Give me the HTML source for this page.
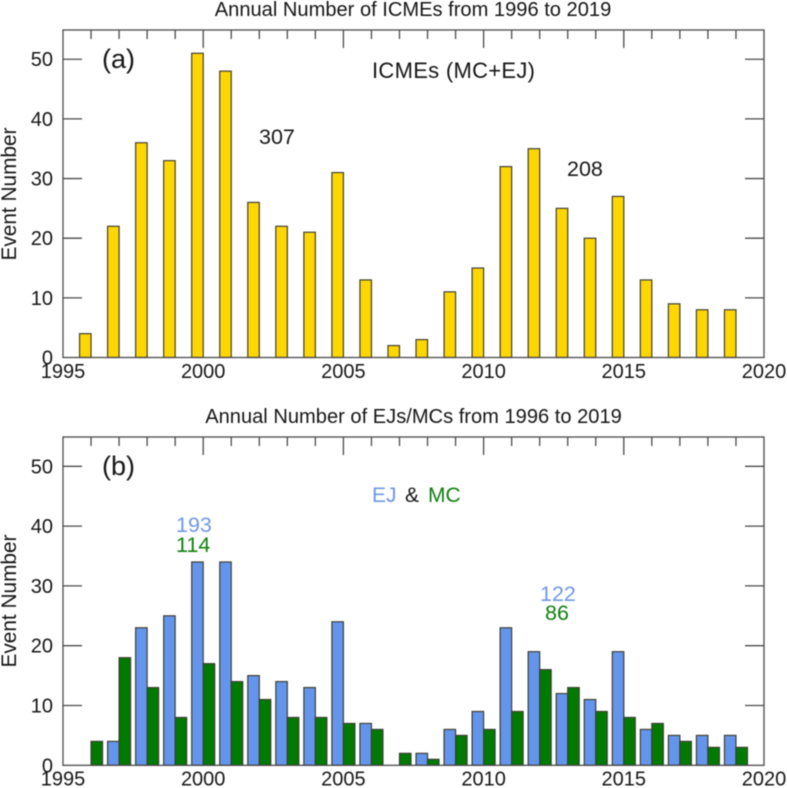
<!DOCTYPE html>
<html lang="en">
<head>
<meta charset="utf-8">
<title>Annual Number of ICMEs from 1996 to 2019</title>
<style>
html,body{margin:0;padding:0;background:#fff;width:787px;height:788px;overflow:hidden}
svg{display:block;filter:blur(0.4px)}
text{font-family:"Liberation Sans",sans-serif;fill:#161616}
</style>
</head>
<body>
<svg id="chart" xmlns="http://www.w3.org/2000/svg" width="787" height="788" viewBox="0 0 787 788"></svg>
<script>
const years = [1996,1997,1998,1999,2000,2001,2002,2003,2004,2005,2006,2007,2008,2009,2010,2011,2012,2013,2014,2015,2016,2017,2018,2019];
const icmeCounts = [4,22,36,33,51,48,26,22,21,31,13,2,3,11,15,32,35,25,20,27,13,9,8,8];
const ejCounts = [0,4,23,25,34,34,15,14,13,24,7,0,2,6,9,23,19,12,11,19,6,5,5,5];
const mcCounts = [4,18,13,8,17,14,11,8,8,7,6,2,1,5,6,9,16,13,9,8,7,4,3,3];
const xTickLabels = [1995,2000,2005,2010,2015,2020];
const yTickLabels = [0,10,20,30,40,50];

const svg = document.getElementById('chart');
const NS = 'http://www.w3.org/2000/svg';
const AXIS = '#4a4a4a';
const left = 63, right = 764;
const xMin = 1995, xMax = 2020, yMax = 54.9;
const barYears = 0.41;
const xScale = v => left + (v - xMin) / (xMax - xMin) * (right - left);

function make(tag, attrs, parent) {
  const el = document.createElementNS(NS, tag);
  for (const k in attrs) el.setAttribute(k, attrs[k]);
  parent.appendChild(el);
  return el;
}
function label(parent, str, x, y, size, name, opts) {
  const el = make('text', Object.assign({x: x, y: y, 'font-size': size}, opts || {}), parent);
  el.textContent = str;
  
  
  return el;
}

function drawAxes(g, top, bottom, yScale, xLabelBase, title, titleBase, titleX, yTitleY) {
  label(g, title, titleX, titleBase, 20.1, 'chart-title', {'text-anchor': 'middle'});
  label(g, 'Event Number', 0, 0, 20.8, 'y-axis-title', {'text-anchor': 'middle', transform: 'translate(16,' + yTitleY + ') rotate(-90)'});

  for (let yr = xMin + 1; yr < xMax; yr++) {
    const major = yr % 5 === 0;
    const tick = make('line', {x1: xScale(yr), x2: xScale(yr), y1: top, y2: top + (major ? 18 : 9), stroke: AXIS, 'stroke-width': 1.3}, g);
    
    
  }
  xTickLabels.forEach(v => {
    label(g, String(v), xScale(v), xLabelBase, 20, 'x-tick-label', {'text-anchor': 'middle'});
  });
  yTickLabels.forEach(v => {
    if (v > 0) {
      const l = make('line', {x1: left, x2: left + 19, y1: yScale(v), y2: yScale(v), stroke: AXIS, 'stroke-width': 1.3}, g);
      
      
      const r = make('line', {x1: right - 19, x2: right, y1: yScale(v), y2: yScale(v), stroke: AXIS, 'stroke-width': 1.3}, g);
      
      
    }
    label(g, String(v), 53, yScale(v) + 7, 20, 'y-tick-label', {'text-anchor': 'end'});
  });
}

function drawFrame(g, top, bottom) {
  const frame = make('rect', {x: left, y: top, width: right - left, height: bottom - top, fill: 'none', stroke: AXIS, 'stroke-width': 1.3}, g);
  
  
}

function drawBars(g, values, yScale, bottom, startOffset, fill, name) {
  values.forEach((v, i) => {
    if (v <= 0) return;
    const x = xScale(years[i] + startOffset);
    const bar = make('rect', {x: x, y: yScale(v), width: xScale(years[i] + startOffset + barYears) - x, height: bottom - yScale(v), fill: fill, stroke: '#3f3f33', 'stroke-width': 1.2}, g);
    
    
  });
}

/* Panel (a) */
const topA = 30, bottomA = 357.5;
const yA = v => bottomA - v / yMax * (bottomA - topA);
const panelA = make('g', {}, svg);


drawBars(panelA, icmeCounts, yA, bottomA, -barYears, '#ffd700', 'icme-bar');
drawAxes(panelA, topA, bottomA, yA, 378, 'Annual Number of ICMEs from 1996 to 2019', 16, 413, 194);
drawFrame(panelA, topA, bottomA);
label(panelA, '(a)', 102, 68, 27, 'panel-a-label');
label(panelA, 'ICMEs (MC+EJ)', 372, 78, 22, 'panel-a-annotation', {textLength: 163, lengthAdjust: 'spacing'});
label(panelA, '307', 259, 144, 21.5, 'total-first-cycle');
label(panelA, '208', 567, 176, 21.5, 'total-second-cycle');

/* Panel (b) */
const topB = 437, bottomB = 765.3;
const yB = v => bottomB - v / yMax * (bottomB - topB);
const panelB = make('g', {}, svg);


drawBars(panelB, ejCounts, yB, bottomB, -barYears, '#6495ed', 'ej-bar');
drawBars(panelB, mcCounts, yB, bottomB, 0, '#007a00', 'mc-bar');
drawAxes(panelB, topB, bottomB, yB, 785.5, 'Annual Number of EJs/MCs from 1996 to 2019', 423, 413.5, 601);
drawFrame(panelB, topB, bottomB);
label(panelB, '(b)', 102, 475, 27, 'panel-b-label');
label(panelB, 'EJ', 372, 502, 21, 'legend-entry-ej').style.fill = '#6f97e6';
label(panelB, '&', 405, 502, 21, 'legend-ampersand');
label(panelB, 'MC', 428, 502, 21, 'legend-entry-mc').style.fill = '#117f11';
label(panelB, '193', 176, 532, 21.5, 'ej-total-first-cycle').style.fill = '#6f97e6';
label(panelB, '114', 176, 552, 21.5, 'mc-total-first-cycle').style.fill = '#117f11';
label(panelB, '122', 540, 601, 21.5, 'ej-total-second-cycle').style.fill = '#6f97e6';
label(panelB, '86', 545, 620, 21.5, 'mc-total-second-cycle').style.fill = '#117f11';
</script>
</body>
</html>
